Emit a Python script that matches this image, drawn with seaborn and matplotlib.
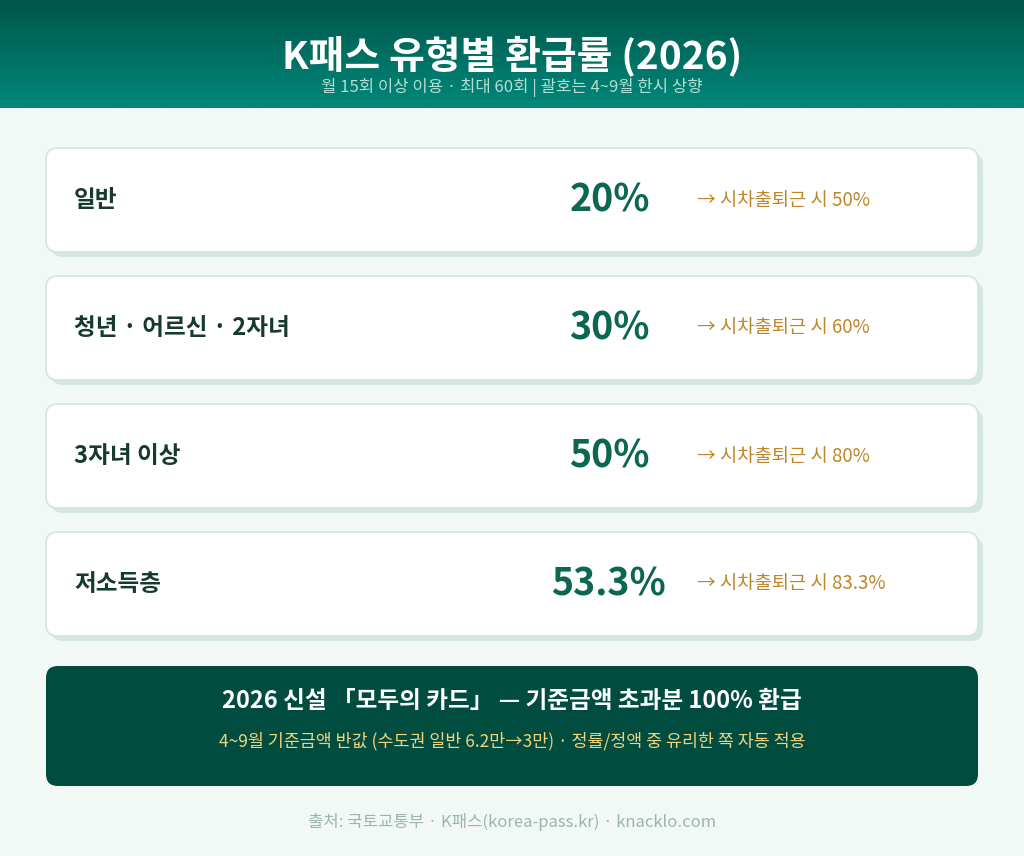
import numpy as np
import seaborn as sns
import matplotlib.pyplot as plt
from matplotlib.patches import FancyBboxPatch

sns.set_style('white')
plt.rcParams['font.family'] = ['Noto Sans CJK KR', 'DejaVu Sans']

categories = ['일반', '청년 · 어르신 · 2자녀', '3자녀 이상', '저소득층']
rates = ['20%', '30%', '50%', '53.3%']
peak_rates = ['50%', '60%', '80%', '83.3%']

title = 'K패스 유형별 환급률 (2026)'
subtitle = '월 15회 이상 이용 · 최대 60회 | 괄호는 4~9월 한시 상향'
box_title = '2026 신설 「모두의 카드」 — 기준금액 초과분 100% 환급'
box_sub = '4~9월 기준금액 반값 (수도권 일반 6.2만→3만) · 정률/정액 중 유리한 쪽 자동 적용'
source = '출처: 국토교통부 · K패스(korea-pass.kr) · knacklo.com'

W, H = 1024, 856
fig = plt.figure(figsize=(W / 100, H / 100), dpi=100)
ax = fig.add_axes([0, 0, 1, 1])
fig.patch.set_facecolor('#f2f8f6')

# header gradient
grad = np.linspace(0, 1, 100).reshape(-1, 1)
cmap = sns.blend_palette(['#00564a', '#00887a'], as_cmap=True)
ax.imshow(grad, extent=[0, W, 108, 0], cmap=cmap, aspect='auto', zorder=0)
ax.set_xlim(0, W)
ax.set_ylim(H, 0)
ax.axis('off')
ax.text(W / 2, 56, title, color='white', fontsize=28, fontweight='heavy', ha='center', va='center')
ax.text(W / 2, 87, subtitle, color='#b5ddd4', fontsize=12, ha='center', va='center')

top0, step, ch = 148, 128, 104
for i, (cat, r, p) in enumerate(zip(categories, rates, peak_rates)):
    y = top0 + i * step
    ax.add_patch(FancyBboxPatch((51, y + 5), 932, ch, boxstyle='round,pad=0,rounding_size=12',
                                fc='#d4e6e0', ec='none', zorder=1))
    ax.add_patch(FancyBboxPatch((46, y), 932, ch, boxstyle='round,pad=0,rounding_size=12',
                                fc='white', ec='#d3e5df', lw=1.2, zorder=2))
    cy = y + ch / 2
    ax.text(74, cy, cat, color='#173a30', fontsize=17, fontweight='heavy', va='center', zorder=3)
    ax.text(650 if len(r) < 5 else 666, cy, r, color='#0b6652', fontsize=27, fontweight='heavy',
            ha='right', va='center', zorder=3)
    ax.text(697, cy, '→ 시차출퇴근 시 ' + p, color='#bf8629', fontsize=13.5, va='center', zorder=3)

ax.add_patch(FancyBboxPatch((46, 666), 932, 120, boxstyle='round,pad=0,rounding_size=12',
                            fc='#004d40', ec='none', zorder=2))
ax.text(W / 2, 701, box_title, color='white', fontsize=17, fontweight='heavy', ha='center', va='center', zorder=3)
ax.text(W / 2, 741, box_sub, color='#f1d27c', fontsize=12.5, ha='center', va='center', zorder=3)
ax.text(W / 2, 822, source, color='#9bb6ad', fontsize=12, ha='center', va='center')

fig.savefig('out.png', dpi=100, facecolor=fig.get_facecolor())
